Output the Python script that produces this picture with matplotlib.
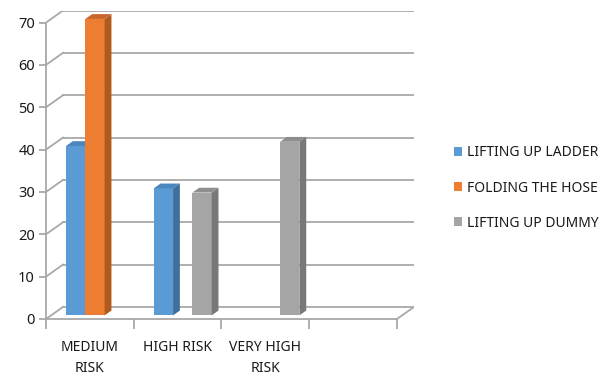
import numpy as np
import matplotlib
matplotlib.use("Agg")
import matplotlib.pyplot as plt
from matplotlib.patches import Patch, Polygon

plt.rcParams['font.family'] = ['Noto Sans', 'DejaVu Sans']

categories = ["MEDIUM\nRISK", "HIGH RISK", "VERY HIGH\nRISK", ""]
series = ["LIFTING UP LADDER", "FOLDING THE HOSE", "LIFTING UP DUMMY"]
ladder = [40, 30, 0, 0]
hose = [70, 0, 0, 0]
dummy = [0, 29, 41, 0]
yticks = [0, 10, 20, 30, 40, 50, 60, 70]

front_colors = ["#5B9BD5", "#ED7D31", "#A5A5A5"]
side_colors = ["#3F6F9C", "#B05A1F", "#787878"]
top_colors = ["#4C86BE", "#C9652A", "#8E8E8E"]
grid_color = "#A8A8A8"
text_color = "#1A1A1A"

# fake 3d: depth offset of the back wall, in data units
ddx = 0.194
ddy = 2.85
bar_w = 0.22
d0, d1 = 0.3, 0.7   # bar front/back as fraction of depth

fig = plt.figure(figsize=(6.02, 3.80), dpi=100)
ax = fig.add_axes([46 / 602, 61 / 380, (414 - 46) / 602, (319 - 10.5) / 380])
n = len(categories)
ax.set_xlim(-0.5, n - 0.5 + ddx)
ax.set_ylim(0, 70 + ddy)

# walls: back gridlines and left side diagonals
for v in yticks:
    ax.plot([-0.5 + ddx, n - 0.5 + ddx], [v + ddy, v + ddy], color=grid_color, lw=1.3, zorder=1)
    ax.plot([-0.5, -0.5 + ddx], [v, v + ddy], color=grid_color, lw=1.3, zorder=1)
# floor right edge
ax.plot([n - 0.5, n - 0.5 + ddx], [0, ddy], color=grid_color, lw=1.3, zorder=1)

# front axes via spines
for s in ["top", "right"]:
    ax.spines[s].set_visible(False)
ax.spines["left"].set_bounds(0, 70)
ax.spines["bottom"].set_bounds(-0.5, n - 0.5)
for s in ["left", "bottom"]:
    ax.spines[s].set_color(grid_color)
    ax.spines[s].set_linewidth(1.3)

ax.set_yticks(yticks)
ax.tick_params(axis="y", length=5, width=1.3, color=grid_color, pad=3,
               labelsize=10.5, labelcolor=text_color)
ax.set_xticks(np.arange(n + 1) - 0.5)
ax.set_xticklabels([])
ax.tick_params(axis="x", which="major", length=7, width=1.3, color=grid_color)
ax.set_xticks(np.arange(n), minor=True)
ax.set_xticklabels(categories, minor=True)
ax.tick_params(axis="x", which="minor", length=0, pad=15, labelsize=10,
               labelcolor=text_color)
for lab in ax.get_xticklabels(minor=True):
    lab.set_linespacing(1.55)

# columns, drawn left to right so later fronts cover earlier side faces
z = 3
for c in range(n):
    for i, vals in enumerate([ladder, hose, dummy]):
        v = vals[c]
        if v <= 0:
            continue
        xl = c + (i - 1.5) * bar_w + d0 * ddx
        xr = xl + bar_w
        b = d0 * ddy
        bx = (d1 - d0) * ddx
        by = (d1 - d0) * ddy
        ax.bar(xl, v, width=bar_w, bottom=b, align="edge",
               color=front_colors[i], lw=0, zorder=z)
        ax.add_patch(Polygon([(xr, b), (xr + bx, b + by), (xr + bx, b + v + by), (xr, b + v)],
                             closed=True, color=side_colors[i], lw=0, zorder=z))
        ax.add_patch(Polygon([(xl, b + v), (xr, b + v), (xr + bx, b + v + by), (xl + bx, b + v + by)],
                             closed=True, color=top_colors[i], lw=0, zorder=z))
        z += 1

handles = [Patch(facecolor=col, edgecolor="none") for col in front_colors]
fig.legend(handles, series, loc="center left", bbox_to_anchor=(441 / 602, 1 - 188 / 380),
           frameon=False, fontsize=10, handlelength=0.6, handleheight=0.6,
           handletextpad=0.4, labelspacing=1.45, labelcolor=text_color)

fig.savefig("out.png", dpi=100)
